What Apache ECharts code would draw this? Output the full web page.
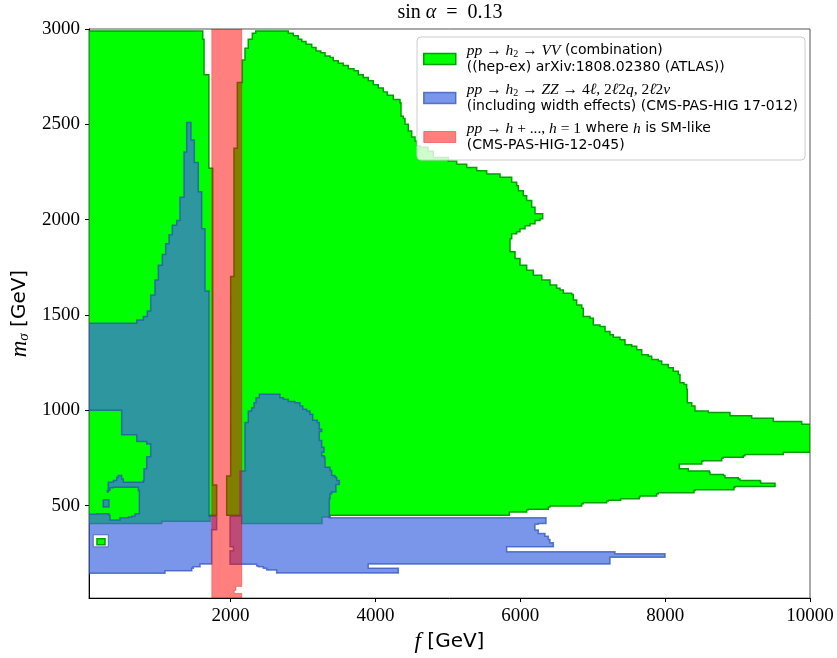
<!DOCTYPE html>
<html>
<head>
<meta charset="utf-8">
<script src="https://cdn.jsdelivr.net/npm/echarts@6.0.0/dist/echarts.min.js"></script>
<style>html,body{margin:0;padding:0;background:#fff}#chart{width:837px;height:658px}</style>
</head>
<body>
<div id="chart"></div>
<script>
// ---------- axis ticks ----------
const xTickValues = [2000, 4000, 6000, 8000, 10000];
const yTickValues = [500, 1000, 1500, 2000, 2500, 3000];
const xRange = [45, 10000];
const yRange = [15, 3000];

// ---------- excluded regions: [f (GeV), m_sigma (GeV)] boundary points ----------
// pp -> h2 -> VV (ATLAS combination), left part
const vvLeft = [
[45,2990],[1615,2990],[1615,2946],[1633,2946],[1633,2760],[1700,2760],[1700,2269],[1753,2269],[1753,608],[1808,608],[1808,450],[1716,450],[1716,418],[1049,418],[1049,406],[45,406]
];
// pp -> h2 -> VV, right part
const vvRight = [
[1946,450],[1946,655],[2001,655],[2001,1702],[2047,1702],[2047,2375],[2093,2375],[2093,2719],[2162,2719],[2162,2838],[2199,2838],[2199,2899],[2244,2899],[2244,2946],[2300,2946],[2300,2978],[2347,2978],[2347,2990],[2705,2990],
[2797,2978],[2866,2964],[2935,2946],[2982,2934],[3041,2920],[3120,2903],[3179,2885],[3244,2876],[3304,2859],[3373,2850],[3418,2833],[3487,2821],[3556,2809],[3625,2792],[3704,2781],[3763,2760],[3832,2746],[3901,2729],[3970,2708],[4039,2691],[4108,2670],[4164,2652],[4246,2630],[4339,2613],[4353,2543],[4385,2531],[4408,2500],[4454,2465],[4500,2433],[4546,2413],[4569,2387],[4615,2380],[4726,2359],[4799,2326],[5006,2308],[5122,2291],[5260,2274],[5398,2256],[5536,2239],[5720,2222],[5881,2196],[5950,2178],[5973,2152],[6041,2126],[6088,2100],[6157,2065],[6203,2031],[6309,2005],
[6272,1995],[6203,1979],[6134,1968],[6065,1952],[5996,1937],[5950,1926],[5881,1900],[5858,1874],[5858,1831],[5927,1796],[5996,1761],[6088,1735],[6180,1709],[6296,1683],[6410,1657],[6502,1640],[6548,1631],[6594,1614],[6710,1608],[6732,1579],[6778,1553],[6848,1535],[6870,1492],[6962,1483],[7008,1448],[7100,1440],[7170,1414],[7238,1396],[7284,1383],[7376,1370],[7445,1344],[7538,1336],[7607,1318],[7676,1292],[7767,1284],[7814,1266],[7905,1258],[7952,1240],[8043,1223],[8112,1205],[8181,1188],[8205,1145],[8260,1136],[8297,1110],[8306,1040],[8367,1023],[8412,997],[8596,988],[8895,971],[9195,958],[9493,941],[9885,927],[10000,919],
[10000,780],[9655,780],[9631,768],[9102,762],[9079,754],[8803,750],[8781,736],[8518,733],[8505,719],[8195,719],[8195,693],[8297,693],[8320,681],[8610,675],[8619,663],[8803,658],[8826,646],[9010,640],[9033,632],[9310,628],[9319,618],[9517,618],[9517,601],[8964,597],[8950,583],[8412,580],[8398,568],[7905,562],[7882,550],[7652,545],[7643,536],[7400,536],[7386,528],[7215,524],[7193,515],[6870,510],[6848,498],[6410,493],[6387,481],[6110,479],[6088,467],[5858,467],[5849,450],[3373,450],[3373,441],[3262,441],[3262,406],[2153,406],[2153,450]
];
// small VV island near the bottom-left
const vvIsland = [[155,326],[266,326],[266,295],[155,295]];

// pp -> h2 -> ZZ (CMS), left part
const zzLeft = [
[45,1457],[704,1457],[704,1474],[795,1474],[795,1492],[842,1492],[850,1521],[897,1521],[897,1605],[956,1605],[956,1683],[1002,1683],[1002,1761],[1057,1761],[1057,1817],[1104,1817],[1104,1874],[1150,1874],[1150,1921],[1195,1921],[1195,1970],[1256,1970],[1256,1996],[1301,1996],[1301,2118],[1357,2118],[1357,2355],[1394,2355],[1394,2509],[1453,2509],[1453,2418],[1499,2418],[1499,2300],[1554,2300],[1554,2147],[1601,2147],[1601,1952],[1647,1952],[1647,1626],[1702,1626],[1702,444],[1808,444],[1808,373],[1739,373],[1739,194],[1601,194],[1578,180],[1485,171],[1463,159],[1118,159],[1094,145],[45,137],
[45,455],[151,458],[242,458],[321,450],[335,424],[404,424],[473,437],[588,441],[635,444],[680,458],[740,467],[740,580],[726,597],[381,594],[335,580],[298,571],[311,623],[381,632],[427,649],[450,658],[496,640],[519,623],[749,623],[795,632],[804,693],[842,701],[842,757],[897,771],[897,823],[842,837],[704,841],[704,872],[566,872],[496,884],[496,1000],[45,1000]
];
const zzIsland = [[242,531],[321,531],[321,493],[242,493]];
// pp -> h2 -> ZZ, right part
const zzRight = [
[1992,444],[2130,444],[2130,681],[2199,681],[2199,936],[2244,936],[2244,997],[2291,1014],[2323,1040],[2351,1066],[2396,1084],[2659,1084],[2682,1066],[2728,1058],[2797,1046],[2889,1040],[2958,1023],[2996,1005],[3051,997],[3096,979],[3134,948],[3197,936],[3225,901],[3258,889],[3225,867],[3225,841],[3258,806],[3290,780],[3258,762],[3290,754],[3304,701],[3373,684],[3396,658],[3442,649],[3465,632],[3501,611],[3455,601],[3455,571],[3396,562],[3373,536],[3363,510],[3363,437],[6355,437],[6355,406],[6249,403],[6203,392],[6203,372],[6226,372],[6249,354],[6341,354],[6341,340],[6387,323],[6410,305],[6456,305],[6456,284],[5812,284],[5812,258],[7307,258],[7307,247],[7998,247],[7998,229],[7238,229],[7238,194],[3901,194],[3901,171],[4316,171],[4316,147],[2659,147],[2636,163],[2498,171],[2452,180],[2383,183],[2360,192],[1992,192],[1992,264],[2039,264],[2039,284],[1992,284]
];
// allowed pocket inside the ZZ band (bottom-left)
const allowedPocket = [[104,347],[311,347],[311,284],[104,284]];

// pp -> h + ..., SM-like h (CMS)
const smBand = [[1740,3000],[2155,3000],[2155,76],[2075,76],[2075,55],[2051,55],[2051,40],[2155,40],[2155,15],[1740,15]];

// ---------- styles ----------
const GREEN = {fill:'#00ff00', stroke:'#00a000', lineWidth:1.5};
const BLUE = {fill:'rgba(65,105,225,0.7)', stroke:'rgba(40,75,185,0.7)', lineWidth:1.5};
const RED = {fill:'rgba(255,0,0,0.5)', stroke:'rgba(220,0,0,0.3)', lineWidth:1};
const WHITE = {fill:'#ffffff', stroke:'rgba(40,75,185,0.7)', lineWidth:1};

function stepped(pts){
  const out=[];
  for(let i=0;i<pts.length;i++){
    const a=pts[i], b=pts[(i+1)%pts.length];
    out.push(a);
    if(a[0]!==b[0] && a[1]!==b[1]) out.push([b[0],a[1]]);
  }
  return out;
}

function regionSeries(name, pts, style){
  return {
    type:'custom', name: name, coordinateSystem:'cartesian2d',
    data: pts, silent:true, animation:false, clip:true,
    renderItem: function(params, api){
      if(params.dataIndex!==0) return null;
      const px = stepped(pts).map(p => api.coord(p));
      return {type:'polygon', shape:{points:px},
        style:{fill:style.fill, stroke:style.stroke, lineWidth:style.lineWidth, lineJoin:'miter'}};
    }
  };
}

const serifFont = 'Liberation Serif';
const sansFont = 'DejaVu Sans';
const legendRich = {
  t:{fontFamily:sansFont, fontSize:14, lineHeight:17, color:'#000'},
  mi:{fontFamily:serifFont, fontStyle:'italic', fontSize:15.5, lineHeight:17, color:'#000'},
  mr:{fontFamily:serifFont, fontSize:15.5, lineHeight:17, color:'#000'},
  sub:{fontFamily:serifFont, fontSize:10, lineHeight:11, verticalAlign:'bottom', color:'#000'}
};
const legendLabels = {
  'VV': '{mi|pp}{mr| → }{mi|h}{sub|2}{mr| → }{mi|VV}{t| (combination)}\n{t|((hep-ex) arXiv:1808.02380 (ATLAS))}',
  'ZZ': '{mi|pp}{mr| → }{mi|h}{sub|2}{mr| → }{mi|ZZ}{mr| → 4}{mi|ℓ}{mr|, 2}{mi|ℓ}{mr|2}{mi|q}{mr|, 2}{mi|ℓ}{mr|2}{mi|ν}\n{t|(including width effects) (CMS-PAS-HIG 17-012)}',
  'SM': '{mi|pp}{mr| → }{mi|h}{mr| + ..., }{mi|h}{mr| = 1}{t| where }{mi|h}{t| is SM-like}\n{t|(CMS-PAS-HIG-12-045)}'
};
const tickRich = {s:{fontFamily:serifFont, fontSize:19, fontWeight:'normal', color:'#000'}};

const chart = echarts.init(document.getElementById('chart'), null, {renderer:'canvas'});
chart.setOption({
  animation:false,
  backgroundColor:'#ffffff',
  graphic:[{
    type:'text', x:450, y:3, silent:true,
    style:{
      text:'{r|sin }{i|α}{r|  =  0.13}', align:'center', verticalAlign:'top',
      rich:{
        r:{fontFamily:serifFont, fontSize:20, fontWeight:'normal', fill:'#000'},
        i:{fontFamily:serifFont, fontStyle:'italic', fontSize:20, fontWeight:'normal', fill:'#000'}
      }
    }
  }],
  grid:{left:89, right:27, top:29, bottom:56, show:true, borderColor:'#555', borderWidth:1, backgroundColor:'transparent'},
  xAxis:{
    type:'value', min:xRange[0], max:xRange[1],
    name:'{i|f}{t| [GeV]}', nameLocation:'middle', nameGap:29,
    nameTextStyle:{rich:{
      i:{fontFamily:serifFont, fontStyle:'italic', fontSize:23, color:'#000'},
      t:{fontFamily:sansFont, fontSize:20, color:'#000'}
    }},
    axisLine:{lineStyle:{color:'#000', width:1}},
    axisTick:{show:true, length:4, lineStyle:{color:'#000'}, customValues:xTickValues},
    axisLabel:{customValues:xTickValues, formatter:v=>'{s|'+v+'}', margin:8, rich:tickRich},
    splitLine:{show:false}
  },
  yAxis:{
    type:'value', min:yRange[0], max:yRange[1],
    name:'{i|m}{sub|σ}{t| [GeV]}', nameLocation:'middle', nameGap:52, nameRotate:90,
    nameTextStyle:{rich:{
      i:{fontFamily:serifFont, fontStyle:'italic', fontSize:23, color:'#000'},
      sub:{fontFamily:serifFont, fontStyle:'italic', fontSize:15, color:'#000', verticalAlign:'bottom', lineHeight:14},
      t:{fontFamily:sansFont, fontSize:20, color:'#000'}
    }},
    axisLine:{lineStyle:{color:'#000', width:1}},
    axisTick:{show:true, length:4, lineStyle:{color:'#000'}, customValues:yTickValues},
    axisLabel:{customValues:yTickValues, formatter:v=>'{s|'+v+'}', margin:9, rich:tickRich},
    splitLine:{show:false}
  },
  legend:{
    orient:'vertical', left:417, top:37, selectedMode:false,
    backgroundColor:'rgba(255,255,255,0.8)', borderColor:'#cccccc', borderWidth:1, borderRadius:4,
    padding:[5,7,6,6], itemGap:5, itemWidth:32, itemHeight:11, icon:'rect',
    data:[
      {name:'VV', itemStyle:{color:'#00ff00', borderColor:'#00a000', borderWidth:1.5}},
      {name:'ZZ', itemStyle:{color:'rgba(65,105,225,0.7)', borderColor:'rgba(40,75,185,0.7)', borderWidth:1.5}},
      {name:'SM', itemStyle:{color:'rgba(255,0,0,0.5)', borderColor:'rgba(220,0,0,0.4)', borderWidth:1}}
    ],
    formatter: name => legendLabels[name],
    textStyle:{fontFamily:sansFont, fontSize:14, lineHeight:17, color:'#000', padding:[0,0,0,6], rich:legendRich}
  },
  series:[
    regionSeries('VV', vvLeft, GREEN),
    regionSeries('VV', vvRight, GREEN),
    regionSeries('ZZ', zzLeft, BLUE),
    regionSeries('ZZ', zzRight, BLUE),
    regionSeries('ZZ', zzIsland, BLUE),
    regionSeries('pocket', allowedPocket, WHITE),
    regionSeries('VV', vvIsland, GREEN),
    regionSeries('SM', smBand, RED)
  ]
});
</script>
</body>
</html>
